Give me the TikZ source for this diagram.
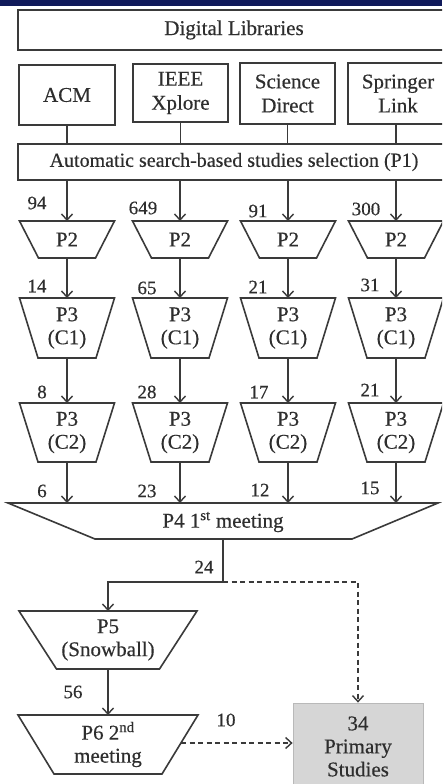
\documentclass[tikz,border=0pt]{standalone}
\usepackage{fontspec}
\setmainfont{Liberation Serif}[FakeBold=0.4]
\usetikzlibrary{arrows.meta}
\definecolor{ln}{HTML}{3A3A3A}
\definecolor{tx}{HTML}{2E2E2E}
\definecolor{band}{HTML}{101A5A}
\definecolor{boxgray}{HTML}{D6D6D6}
\tikzset{
  shp/.style={draw=ln, line width=1.6pt, line join=miter},
  txt/.style={text=tx, align=center, inner sep=0pt, font=\fontsize{21}{23}\selectfont},
  num/.style={text=tx, inner sep=0pt, font=\fontsize{19}{20}\selectfont},
  rbox/.style={draw=ln, line width=1.6pt, text=tx, align=center, inner sep=0pt, font=\fontsize{21}{24}\selectfont},
  conn/.style={draw=ln, line width=1.6pt},
  arr/.style={draw=ln, line width=1.6pt, -{Straight Barb[length=6pt,width=11pt,line width=1.4pt]}},
  darr/.style={draw=ln, line width=1.6pt, dash pattern=on 5pt off 3.5pt, -{Straight Barb[length=6pt,width=11pt,line width=1.4pt]}},
}
\newcommand{\trapz}[7]{%
  \draw[shp] ({#2-#4},#3) -- ({#2+#4},#3) -- ({#2+#5},#6) -- ({#2-#5},#6) -- cycle;
  \coordinate (#1-n) at (#2,#3);
  \coordinate (#1-s) at (#2,#6);
  \node[txt] (#1) at (#2,{(#3+#6)/2}) {#7};
}
\begin{document}
\begin{tikzpicture}[x=1pt,y=-1pt]
\useasboundingbox (0,0) rectangle (442,784);
\fill[white] (0,0) rectangle (442,784);
\begin{scope}
\clip (0,0) rectangle (442,784);
\fill[band] (0,0) rectangle (442,6);

% top boxes
\node[rbox, minimum width=432pt, minimum height=40pt] (dl) at (234,30) {Digital Libraries};
\node[rbox, minimum width=96pt, minimum height=60pt] (acm) at (67,95) {ACM};
\node[rbox, minimum width=95pt, minimum height=58pt] (ieee) at (180.5,93) {IEEE\\Xplore};
\node[rbox, minimum width=95pt, minimum height=61pt] (sd) at (287.5,93.5) {Science\\Direct};
\node[rbox, minimum width=100pt, minimum height=61pt] (sl) at (398,93.5) {Springer\\Link};
\node[rbox, minimum width=432pt, minimum height=36pt] (p1) at (234,162) {\fontsize{20}{23}\selectfont Automatic search-based studies selection (P1)};

% column trapezoids
\foreach \n/\x in {a/67,b/180,c/288,d/396}{
  \trapz{\n2}{\x}{221}{47.5}{28.5}{258}{P2}
  \trapz{\n31}{\x}{298}{47.5}{29}{358}{P3\\(C1)}
  \trapz{\n32}{\x}{403}{47.5}{29}{462}{P3\\(C2)}
}

% P4
\draw[shp] (8,503) -- (438,503) -- (352,539) -- (95,539) -- cycle;
\coordinate (p4-n) at (223,503);
\coordinate (p4-s) at (223,539);
\node[txt] (p4) at (223,522) {P4 1\textsuperscript{st} meeting};

% P5, P6
\trapz{p5}{108}{611}{89}{51.5}{669}{P5\\(Snowball)}
\trapz{p6}{108}{715}{90}{54}{774}{P6 2\textsuperscript{nd}\\meeting}
\coordinate (p6e) at (181,743);

% primary studies
\node[draw=gray!55, line width=0.8pt, fill=boxgray, text=tx, align=center, inner sep=0pt,
      font=\fontsize{21}{23}\selectfont, minimum width=130pt, minimum height=87pt] (prim) at (358,746.5) {34\\Primary\\Studies};

% connectors boxes -> P1
\foreach \b in {acm,ieee,sd}{
  \draw[conn] (\b.south) -- (\b.south |- p1.north);
}
\draw[conn] (396,124) -- (396,144);
% P1 -> P2 -> P3 -> P3 -> P4
\foreach \n in {a,b,c,d}{
  \draw[arr] (p1.south -| \n2-n) -- (\n2-n);
  \draw[arr] (\n2-s) -- (\n31-n);
  \draw[arr] (\n31-s) -- (\n32-n);
  \draw[arr] (\n32-s) -- (\n32-s |- p4-n);
}
\coordinate (j) at (223,582);
\draw[conn] (p4-s) -- (j);
\draw[arr] (j) -| (p5-n);
\draw[darr] (j) -| (prim.north);
\draw[arr] (p5-s) -- (p6-n);
\draw[darr] (p6e) -- (p6e -| prim.west);

% labels
\node[num] (l94) at (37,203) {94};
\node[num] (l649) at (143,208) {649};
\node[num] (l91) at (258,211) {91};
\node[num] (l300) at (366,209) {300};
\node[num] (l14) at (37,286) {14};
\node[num] (l65) at (147,288) {65};
\node[num] (l21a) at (258,287) {21};
\node[num] (l31) at (370,285) {31};
\node[num] (l8) at (42,392) {8};
\node[num] (l28) at (147,392) {28};
\node[num] (l17) at (259,392) {17};
\node[num] (l21b) at (370,390) {21};
\node[num] (l6) at (42,491) {6};
\node[num] (l23) at (147,491) {23};
\node[num] (l12) at (260,490) {12};
\node[num] (l15) at (370,488) {15};
\node[num] (l24) at (204,567) {24};
\node[num] (l56) at (73,692) {56};
\node[num] (l10) at (226,720) {10};
\end{scope}
\end{tikzpicture}
\end{document}
